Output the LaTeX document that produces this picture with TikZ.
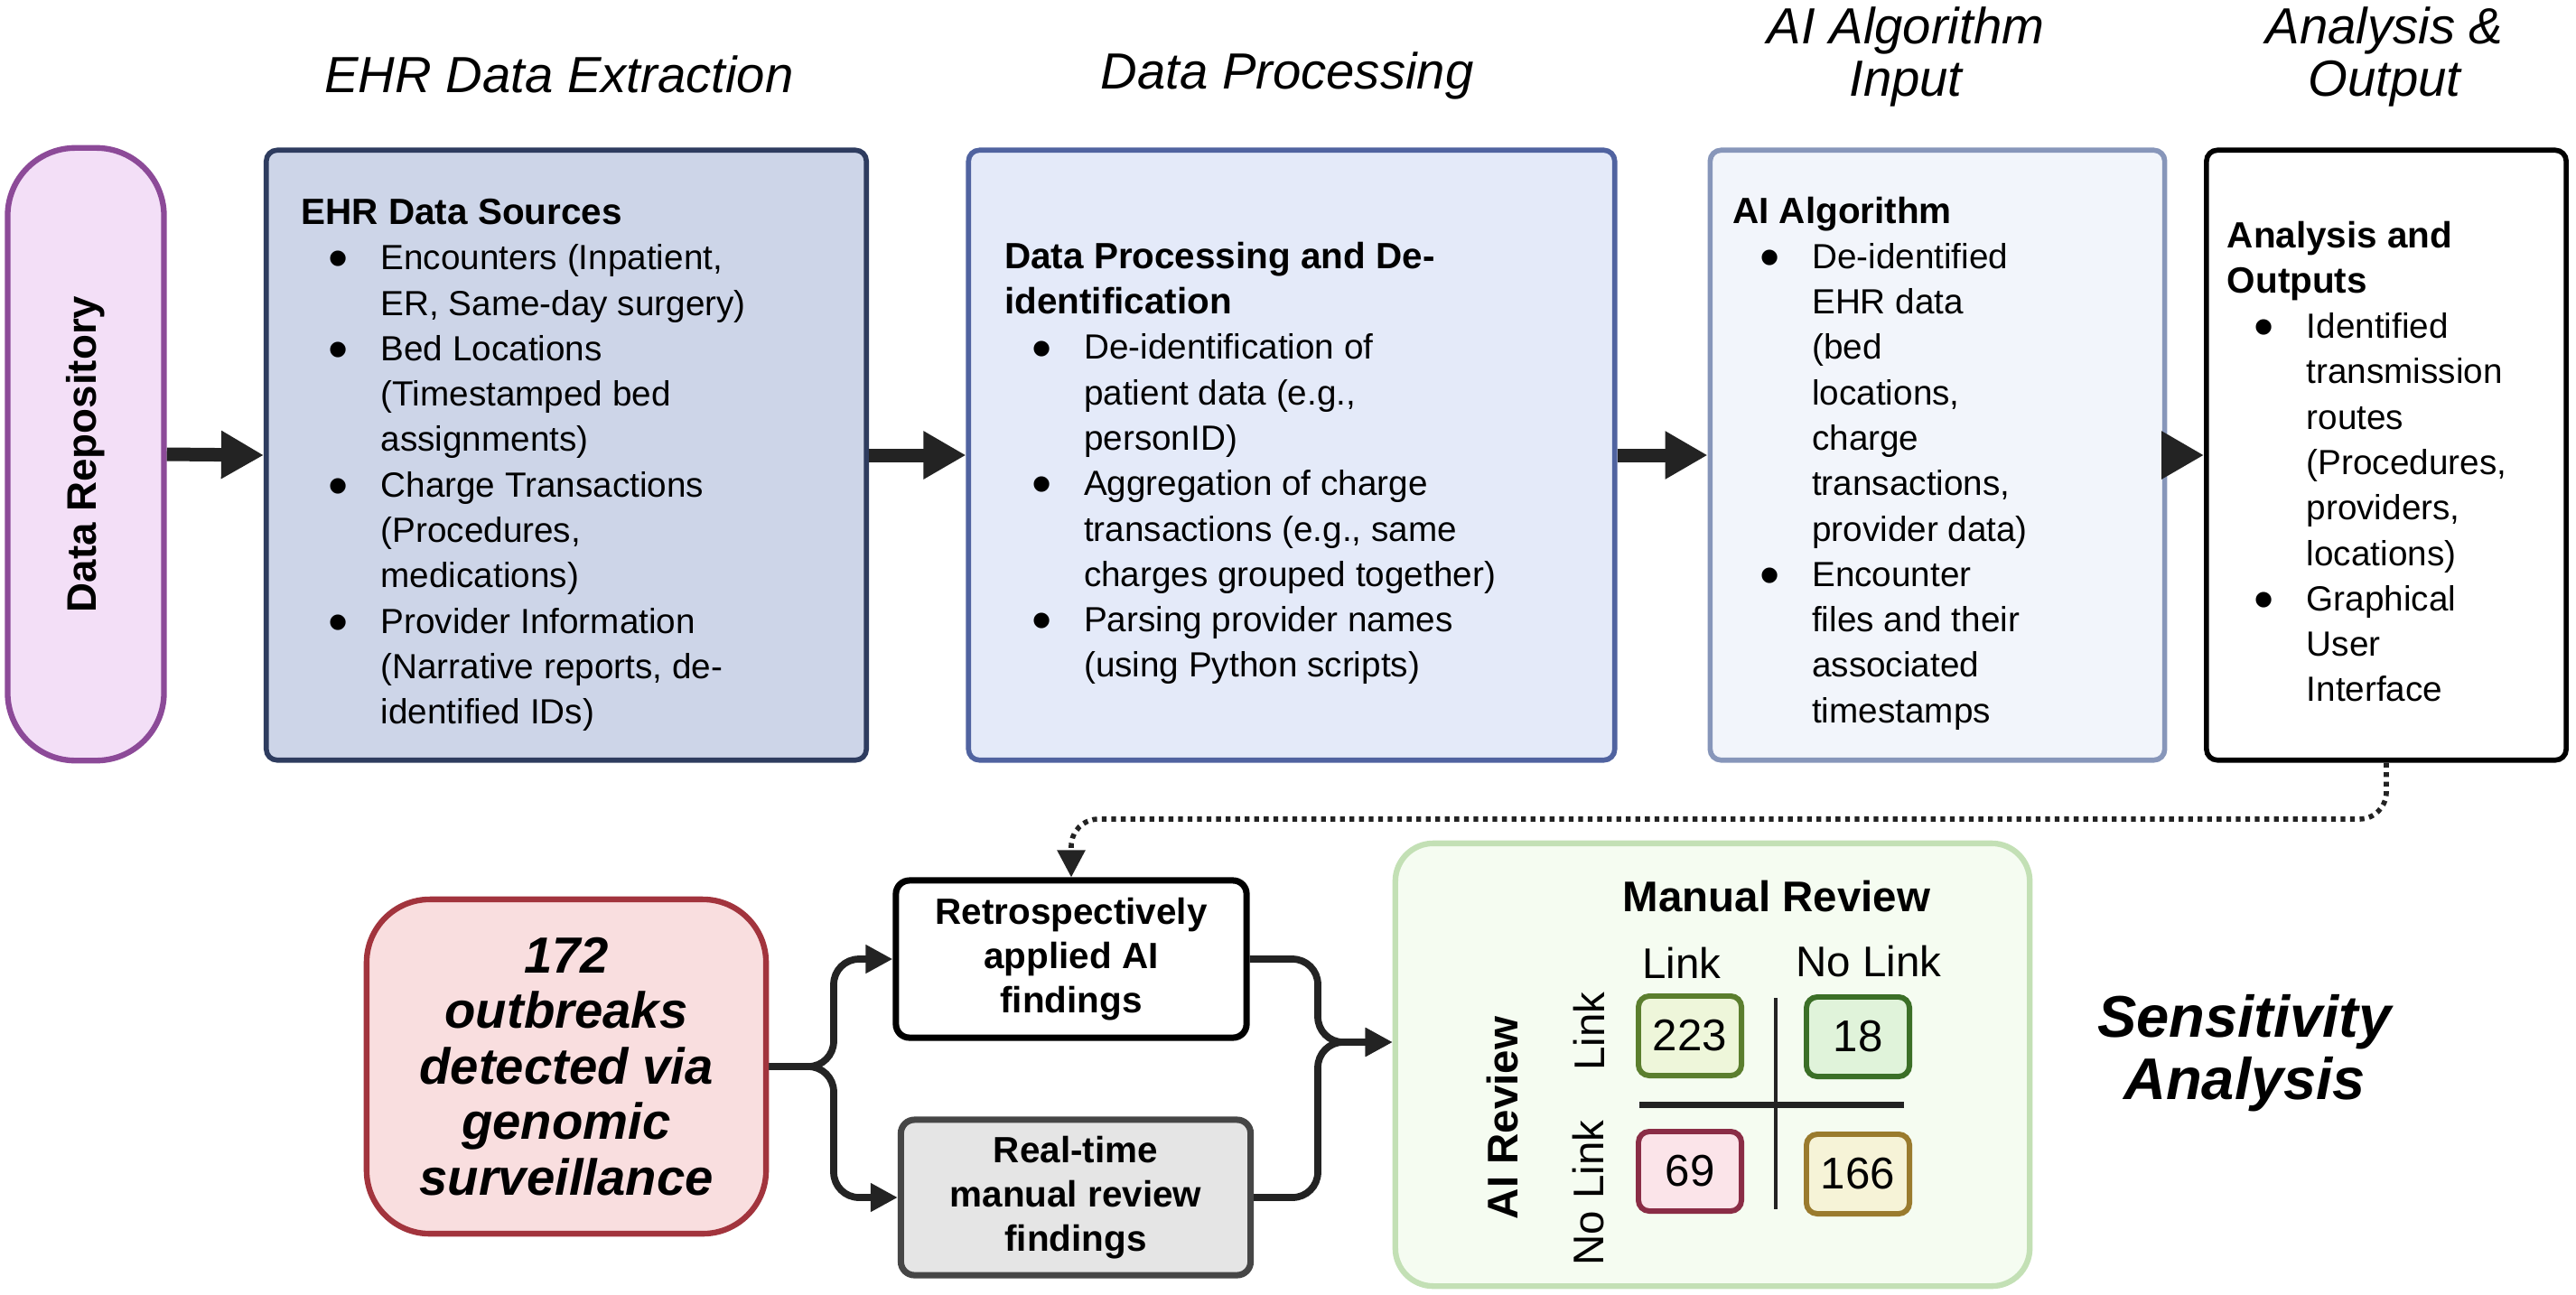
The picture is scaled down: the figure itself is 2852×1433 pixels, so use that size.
\documentclass[tikz,border=0pt]{standalone}
\usepackage{fontspec}
\setmainfont{Liberation Sans}
\usepackage{tikz}
\usetikzlibrary{arrows.meta, positioning, calc}
\definecolor{repofill}{HTML}{F3DFF7}
\definecolor{repodraw}{HTML}{8C4A98}
\definecolor{ehrfill}{HTML}{CDD5E8}
\definecolor{ehrdraw}{HTML}{2E3C5F}
\definecolor{procfill}{HTML}{E4EAF9}
\definecolor{procdraw}{HTML}{5063A0}
\definecolor{algofill}{HTML}{F2F5FB}
\definecolor{algodraw}{HTML}{8796BA}
\definecolor{outbfill}{HTML}{F9DEDF}
\definecolor{outbdraw}{HTML}{A2343D}
\definecolor{rtfill}{HTML}{E5E5E5}
\definecolor{rtdraw}{HTML}{464646}
\definecolor{sensfill}{HTML}{F5FCF1}
\definecolor{sensdraw}{HTML}{C3E0B5}
\definecolor{tpfill}{HTML}{EEF6DA}
\definecolor{tpdraw}{HTML}{5B7E2E}
\definecolor{fpfill}{HTML}{E0F3DA}
\definecolor{fpdraw}{HTML}{3B6F27}
\definecolor{fnfill}{HTML}{FBE4E9}
\definecolor{fndraw}{HTML}{8A2D46}
\definecolor{tnfill}{HTML}{F6F3D7}
\definecolor{tndraw}{HTML}{9A7B2E}
\definecolor{mydark}{HTML}{232323}
\newcommand{\bul}{\makebox[25pt][l]{\hspace{8.5pt}\raisebox{-2.6pt}{\fontsize{18}{14}\selectfont\textbullet}}}
\newcommand{\cnt}{\hspace*{25pt}}
\newcommand{\hd}[1]{{\fontsize{11.5}{14.3}\selectfont\bfseries #1}}
\tikzset{
  stage/.style={font=\fontsize{16}{16.5}\selectfont\itshape, align=center},
  panel/.style={rectangle, rounded corners=0.12cm, line width=1.6pt,
    minimum height=6.75cm},
  body/.style={inner sep=0pt, align=left, font=\fontsize{11}{14.3}\selectfont},
  flowbox/.style={rectangle, rounded corners=0.15cm, line width=2pt,
    align=center, font=\fontsize{11.5}{14}\selectfont\bfseries},
  cell/.style={rectangle, rounded corners=0.12cm, line width=1.7pt,
    minimum width=1.14cm, minimum height=0.88cm, font=\fontsize{14}{16}\selectfont},
  axis/.style={font=\fontsize{13.5}{16}\selectfont},
  bigarrow/.style={-{Triangle[length=0.47cm,width=0.5cm]}, line width=0.15cm, draw=mydark},
  link/.style={-{Triangle[length=0.3cm,width=0.3cm]}, line width=2.2pt, draw=mydark,
    rounded corners=0.28cm},
  dotlink/.style={-{Triangle[length=0.3cm,width=0.3cm]}, line width=1.6pt, draw=mydark,
    dash pattern=on 1.5pt off 1.5pt, rounded corners=0.3cm}
}
\begin{document}
\begin{tikzpicture}[x=0.01cm, y=-0.01cm]
  \useasboundingbox (0,0) rectangle (2852,1433);
  % stage titles
  \node[stage, anchor=base] (t1) at (619,102) {EHR Data Extraction};
  \node[stage, anchor=base] (t2) at (1425,98) {Data Processing};
  \node[stage] (t3) at (2110,63) {AI Algorithm\\Input};
  \node[stage] (t4) at (2640,63) {Analysis \&\\Output};

  % top row
  \node[rectangle, rounded corners=0.75cm, line width=1.8pt, draw=repodraw, fill=repofill,
    minimum width=1.73cm, minimum height=6.78cm] (repo) at (95,503) {};
  \node[rotate=90, font=\fontsize{13}{15}\selectfont\bfseries] at (repo) {Data Repository};
  \node[panel, draw=ehrdraw, fill=ehrfill, minimum width=6.64cm] (ehr) at (627,504) {};
  \node[panel, draw=procdraw, fill=procfill, minimum width=7.15cm] (proc) at (1430,504) {};
  \node[panel, draw=algodraw, fill=algofill, minimum width=5.03cm] (algo) at (2145,504) {};
  \node[panel, draw=black, fill=white, minimum width=3.98cm] (outp) at (2642,504) {};

  \node[body, right=0.41cm of ehr.west, yshift=-0.11cm] {\hd{EHR Data Sources}\\
    \bul Encounters (Inpatient,\\ \cnt ER, Same-day surgery)\\
    \bul Bed Locations\\ \cnt (Timestamped bed\\ \cnt assignments)\\
    \bul Charge Transactions\\ \cnt (Procedures,\\ \cnt medications)\\
    \bul Provider Information\\ \cnt (Narrative reports, de-\\ \cnt identified IDs)};
  \node[body, right=0.42cm of proc.west, yshift=-0.09cm] {\hd{Data Processing and De-}\\ \hd{identification}\\
    \bul De-identification of\\ \cnt patient data (e.g.,\\ \cnt personID)\\
    \bul Aggregation of charge\\ \cnt transactions (e.g., same\\ \cnt charges grouped together)\\
    \bul Parsing provider names\\ \cnt (using Python scripts)};
  \node[body, right=0.27cm of algo.west, yshift=-0.09cm] {\hd{AI Algorithm}\\
    \bul De-identified\\ \cnt EHR data\\ \cnt (bed\\ \cnt locations,\\ \cnt charge\\
    \cnt transactions,\\ \cnt provider data)\\
    \bul Encounter\\ \cnt files and their\\ \cnt associated\\ \cnt timestamps};
  \node[body, right=0.25cm of outp.west, yshift=-0.07cm] {\hd{Analysis and}\\ \hd{Outputs}\\
    \bul Identified\\ \cnt transmission\\ \cnt routes\\ \cnt (Procedures,\\ \cnt providers,\\
    \cnt locations)\\
    \bul Graphical\\ \cnt User\\ \cnt Interface};

  \draw[bigarrow] (repo.east) -- (ehr.west);
  \draw[bigarrow] (ehr.east) -- (proc.west);
  \draw[bigarrow] (proc.east) -- (algo.west);
  \draw[bigarrow] (algo.east) -- (outp.west);

  % bottom row
  \node[rectangle, rounded corners=0.7cm, line width=1.8pt, draw=outbdraw, fill=outbfill,
    minimum width=4.42cm, minimum height=3.7cm, align=center,
    font=\fontsize{16}{17.5}\selectfont\bfseries\itshape] (outb) at (627,1181)
    {172\\outbreaks\\detected via\\genomic\\surveillance};
  \node[flowbox, draw=black, fill=white, minimum width=3.88cm, minimum height=1.74cm]
    (retro) at (1186,1062) {Retrospectively\\applied AI\\findings};
  \node[flowbox, draw=rtdraw, fill=rtfill, minimum width=3.87cm, minimum height=1.72cm]
    (rtime) at (1191,1326) {Real-time\\manual review\\findings};
  \node[rectangle, rounded corners=0.42cm, line width=1.8pt, draw=sensdraw, fill=sensfill,
    minimum width=7.02cm, minimum height=4.9cm] (sens) at (1896,1179) {};

  \coordinate (fork) at (923,1181);
  \coordinate (join) at (1459,1154);
  \draw[link] (outb.east) -- (fork) |- (retro.west);
  \draw[link] (outb.east) -- (fork) |- (rtime.west);
  \draw[link] (retro.east) -| (join) -- (join -| sens.west);
  \draw[link] (rtime.east) -| (join) -- (join -| sens.west);
  \draw[dotlink] (outp.south) |- (retro.north |- 0,907) -- (retro.north);

  % confusion matrix
  \node[font=\fontsize{13.5}{16}\selectfont\bfseries] (mrev) at (1967,993) {Manual Review};
  \node[axis] (clink) at (1862,1066) {Link};
  \node[axis] (cnolink) at (2069,1065) {No Link};
  \node[axis, rotate=90] (rlink) at (1759,1142) {Link};
  \node[axis, rotate=90] (rnolink) at (1759,1321) {No Link};
  \node[rotate=90, font=\fontsize{13.5}{16}\selectfont\bfseries] (airev) at (1664,1238) {AI Review};
  \node[cell, draw=tpdraw, fill=tpfill] (c223) at (1871,1147) {223};
  \node[cell, draw=fpdraw, fill=fpfill] (c18) at (2057,1148) {18};
  \node[cell, draw=fndraw, fill=fnfill] (c69) at (1871,1297) {69};
  \node[cell, draw=tndraw, fill=tnfill] (c166) at (2057,1300) {166};
  \draw[line width=1.4pt, mydark] (1966,1105) -- (1966,1339);
  \draw[line width=2pt, mydark] (1815,1223) -- (2108,1223);

  \node[align=center, font=\fontsize{18.5}{19.5}\selectfont\bfseries\itshape] (sensl)
    at (2485,1166) {Sensitivity\\Analysis};
\end{tikzpicture}
\end{document}
